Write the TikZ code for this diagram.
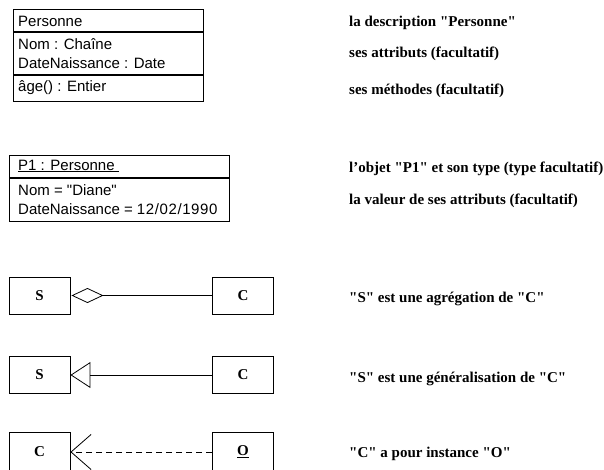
\documentclass[tikz,border=0pt]{standalone}
\usepackage{fontspec}
\setmainfont{Liberation Serif}[Ligatures=TeXOff]
\setsansfont{Liberation Sans}[Ligatures=TeXOff]
\usetikzlibrary{arrows.meta}

\begin{document}
\begin{tikzpicture}[x=1pt, y=-1pt,
  compart/.style={draw, line width=0.9pt, inner sep=0pt, anchor=north west},
  boxtext/.style={font=\sffamily\fontsize{15}{19}\selectfont, anchor=base west, inner sep=0pt},
  note/.style={font=\bfseries\fontsize{15}{18}\selectfont, anchor=base west, inner sep=0pt},
  relbox/.style={draw, line width=0.9pt, minimum width=61pt, minimum height=37pt, inner sep=0pt,
                 font=\bfseries\fontsize{15}{18}\selectfont},
  link/.style={line width=0.8pt},
]
\useasboundingbox (0,0) rectangle (604,469);

% Class description
\node[compart, minimum width=190pt, minimum height=22pt] (cname) at (13,9) {};
\node[compart, minimum width=190pt, minimum height=42pt] (cattr) at (cname.south west) {};
\node[compart, minimum width=190pt, minimum height=26pt] (cops)  at (cattr.south west) {};
\node[boxtext] (tname) at (18,26) {Personne};
\node[boxtext] (tattr1) at (18,49) {Nom : Chaîne};
\node[boxtext] (tattr2) at (18,68) {DateNaissance : Date};
\node[boxtext] (tops) at (18,91) {âge() : Entier};

% Object
\node[compart, minimum width=220pt, minimum height=22pt] (oname) at (9,155) {};
\node[compart, minimum width=220pt, minimum height=43pt] (oattr) at (oname.south west) {};
\node[boxtext] (toname) at (18,170) {\underline{P1 : Personne\ }};
\node[boxtext] (toattr1) at (18,195) {Nom = "Diane"};
\node[boxtext] (toattr2) at (18,214) {DateNaissance = {\addfontfeature{LetterSpace=4}12/02/1990}};

% Notes
\node[note] (n1) at (349,26) {la description "Personne"};
\node[note] (n2) at (349,57) {ses attributs (facultatif)};
\node[note] (n3) at (349,94) {ses méthodes (facultatif)};
\node[note] (n4) at (349,172) {l’objet "P1" et son type (type facultatif)};
\node[note] (n5) at (349,204) {la valeur de ses attributs (facultatif)};
\node[note] (n6) at (349,302) {"S" est une agrégation de "C"};
\node[note] (n7) at (349,382) {"S" est une généralisation de "C"};
\node[note] (n8) at (349,457) {"C" a pour instance "O"};

% Aggregation
\node[relbox] (agS) at (39.5,295.5) {S};
\node[relbox] (agC) at (243,295.5) {C};
\draw[link, -{Diamond[open, length=32pt, width=15pt, line width=0.8pt]}, shorten >=1pt] (agC.west) -- (agS.east);

% Generalisation
\node[relbox] (geS) at (39.5,375) {S};
\node[relbox] (geC) at (243,375) {C};
\draw[link, -{Triangle[open, length=20pt, width=26pt, line width=0.8pt]}] (geC.west) -- (geS.east);

% Instance
\node[relbox, minimum height=40pt] (inC) at (39.5,452) {C};
\node[relbox, minimum height=40pt] (inO) at (243,452) {\underline{O}};
\draw[link, dash pattern=on 6pt off 4pt, -{Straight Barb[length=20pt, width=35pt, line width=0.8pt]}] (inO.west) -- (inC.east);
\end{tikzpicture}
\end{document}
